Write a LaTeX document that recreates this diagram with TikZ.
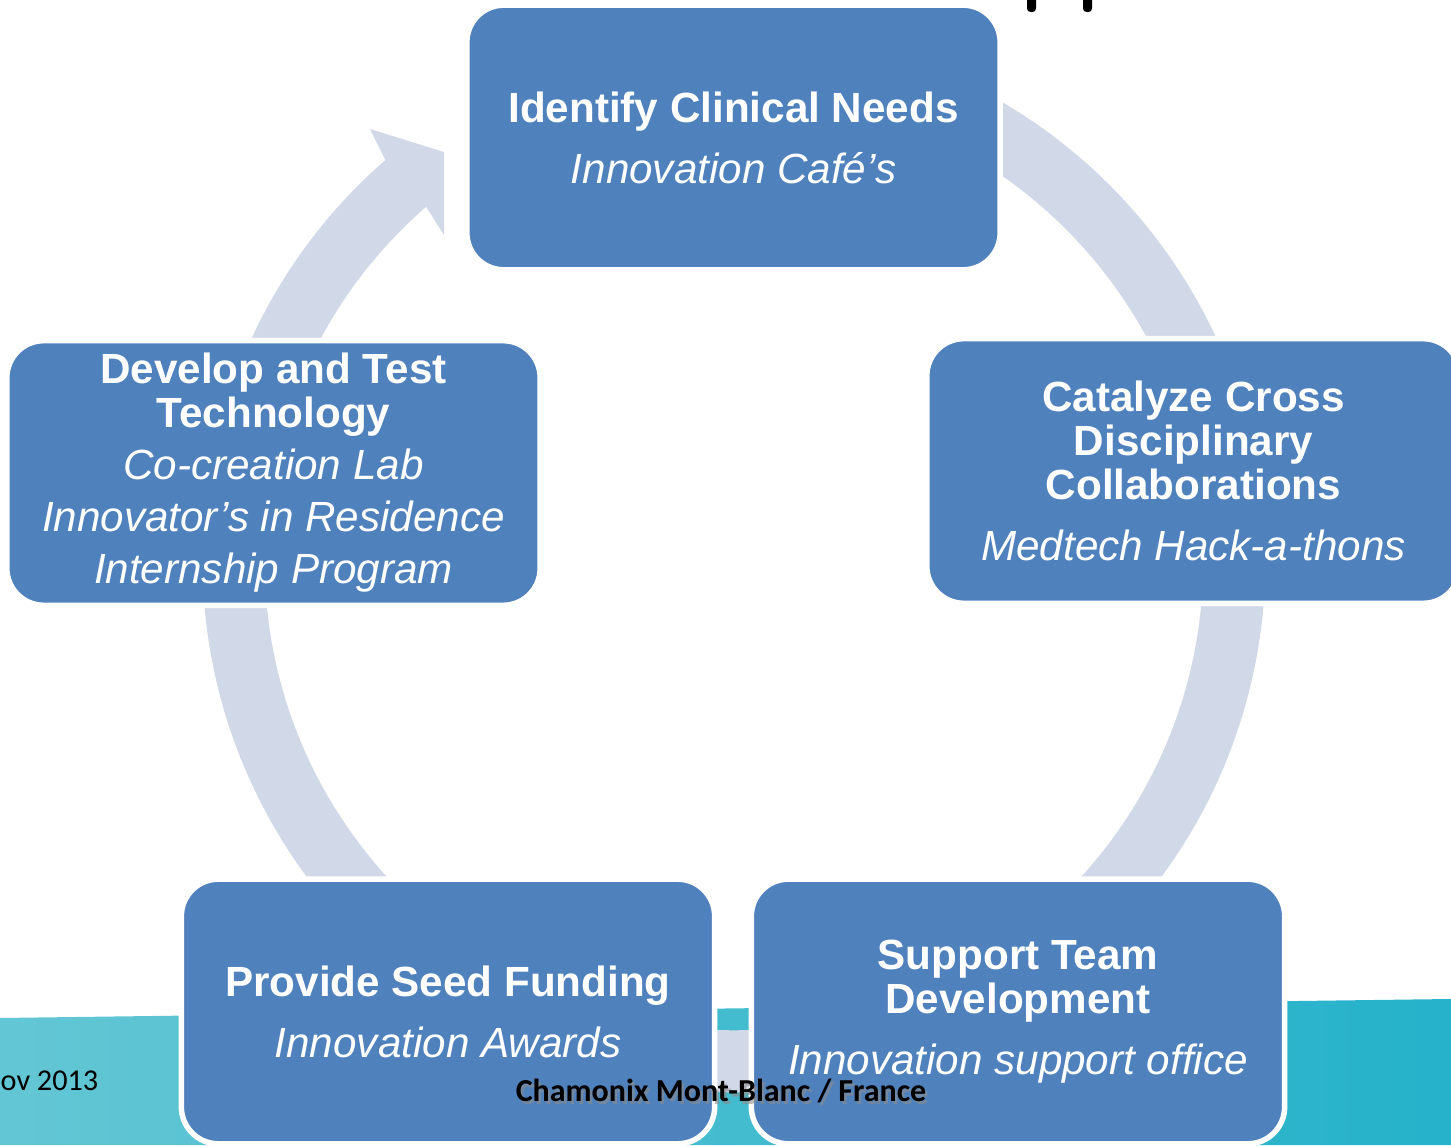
\documentclass[tikz,border=0pt]{standalone}
\usepackage{fontspec}
\setmainfont{Liberation Sans}
\newfontfamily\footfont{Carlito}
\usetikzlibrary{calc}
\definecolor{boxblue}{HTML}{4F81BD}
\definecolor{ringgray}{HTML}{D1D8E8}
\definecolor{tealleft}{HTML}{63C6D4}
\definecolor{tealright}{HTML}{25B2CA}
\tikzset{
    fase/.style={rectangle, rounded corners=0.37cm, fill=boxblue, draw=white, line width=0.055cm, minimum width=5.33cm, minimum height=2.645cm, align=center, text=white, inner sep=0pt, font=\fontsize{12}{12.5}\selectfont}, % box of one step
    ring/.style={fill=ringgray},
    foot/.style={inner sep=0pt},
}
\newcommand{\capo}[1]{{\bfseries #1}}
\newcommand{\voce}[1]{{\itshape #1}}

\begin{document}
\begin{tikzpicture}[x=0.01cm, y=0.01cm]
        \useasboundingbox (0,0) rectangle (1451,1145);

        % Sfondo
        \shade[left color=tealleft, right color=tealright] (0,127) -- (1451,146) -- (1451,0) -- (0,0) -- cycle;
        \fill[black, rounded corners=1pt] (1027,1133) rectangle (1036,1150);
        \fill[black, rounded corners=1pt] (1083,1133) rectangle (1092,1150);

        % Anello
        \coordinate (c) at (734,584);
        \fill[ring] ($(c)+(75:5.31cm)$) arc[start angle=75, end angle=-229, radius=5.31cm]
            -- (370,1016) -- (444,993) -- (444,910)
            -- ($(c)+(-229:4.69cm)$) arc[start angle=-229, end angle=75, radius=4.69cm] -- cycle;

        % Fasi
        \node[fase] (needs) at (733.5,1007.5) {\capo{Identify Clinical Needs}\\[4.85pt]\voce{Innovation Café’s}};
        \node[fase] (collab) at (1193.5,674) {\capo{Catalyze Cross}\\\capo{Disciplinary}\\\capo{Collaborations}\\[4.85pt]\voce{Medtech Hack-a-thons}};
        \node[fase] (team) at (1018,133.5) {\capo{Support Team}\\\capo{Development}\\[4.85pt]\voce{Innovation support office}};
        \node[fase] (funding) at (448,133.5) {\capo{Provide Seed Funding}\\[4.85pt]\voce{Innovation Awards}};
        \node[fase] (develop) at (273.5,672) {\capo{Develop and Test}\\\capo{Technology}\\[2.3pt]\voce{Co-creation Lab}\\[2.3pt]\voce{Innovator’s in Residence}\\[2.3pt]\voce{Internship Program}};

        % Pie di pagina
        \node[foot, anchor=west, font=\footfont\fontsize{8.6}{10}\selectfont] (data) at (0,64) {ov 2013};
        \node[foot, text=black!45, opacity=0.6, font=\footfont\fontsize{9.1}{11}\selectfont\bfseries] (ombra) at (723.5,51.5) {Chamonix Mont-Blanc / France};
        \node[foot, font=\footfont\fontsize{9.1}{11}\selectfont\bfseries] (luogo) at (721,54) {Chamonix Mont-Blanc / France};
\end{tikzpicture}
\end{document}
